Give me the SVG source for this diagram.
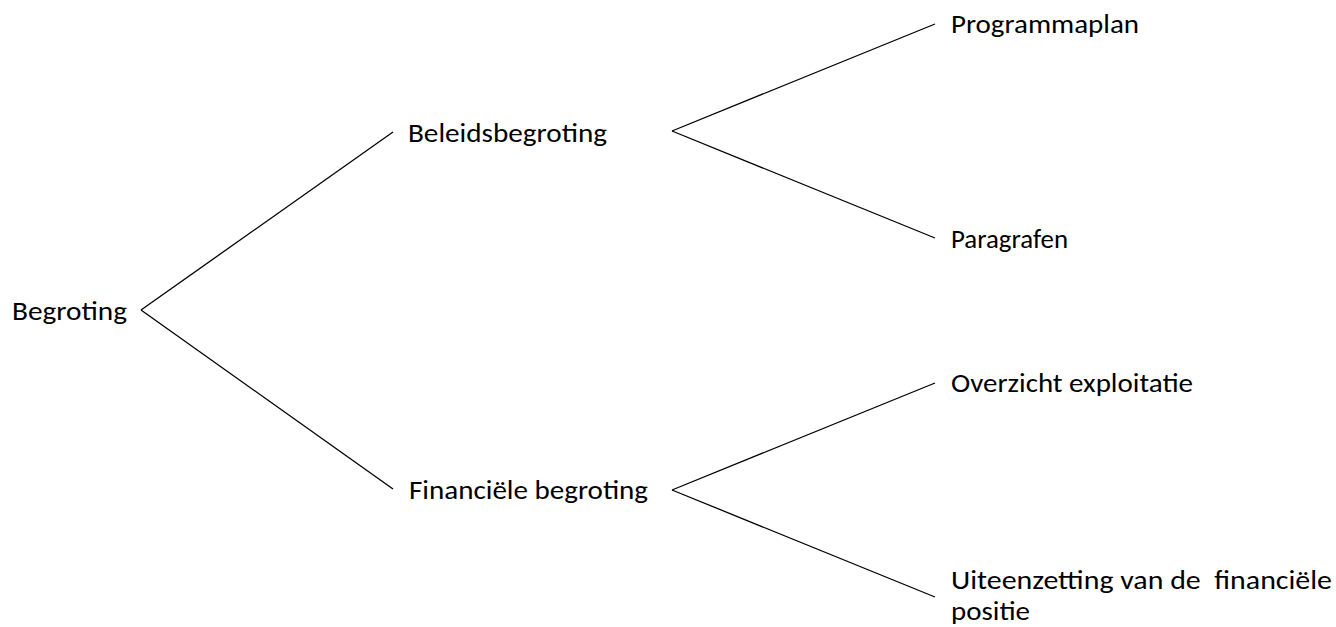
<svg xmlns="http://www.w3.org/2000/svg" width="1336" height="627" viewBox="0 0 1336 627">
<style>
.lbl{font-family:Carlito,Lato,"Open Sans",sans-serif;font-size:26px;fill:#000;white-space:pre}
.con line{stroke:#000;stroke-width:1.3;fill:none}
</style>
<rect width="1336" height="627" fill="#fff"/>
<g id="connectors" class="con">
<line x1="141" y1="310" x2="393" y2="132"/>
<line x1="141" y1="310" x2="393" y2="489"/>
<line x1="672" y1="131" x2="935" y2="24"/>
<line x1="672" y1="131" x2="935" y2="238"/>
<line x1="672" y1="490" x2="935" y2="383"/>
<line x1="672" y1="490" x2="935" y2="597"/>
</g>
<g id="begroting"><text class="lbl" x="12" y="320" textLength="115" lengthAdjust="spacingAndGlyphs">Begroting</text></g>
<g id="beleidsbegroting"><text class="lbl" x="408" y="142" textLength="199" lengthAdjust="spacingAndGlyphs">Beleidsbegroting</text></g>
<g id="financiele-begroting"><text class="lbl" x="409" y="499" textLength="239" lengthAdjust="spacingAndGlyphs">Financiële begroting</text></g>
<g id="programmaplan"><text class="lbl" x="951" y="33" textLength="188" lengthAdjust="spacingAndGlyphs">Programmaplan</text></g>
<g id="paragrafen"><text class="lbl" x="951" y="248" textLength="117" lengthAdjust="spacingAndGlyphs">Paragrafen</text></g>
<g id="overzicht-exploitatie"><text class="lbl" x="951" y="392" textLength="242" lengthAdjust="spacingAndGlyphs">Overzicht exploitatie</text></g>
<g id="uiteenzetting"><text class="lbl" x="951" y="589" textLength="381" lengthAdjust="spacingAndGlyphs" xml:space="preserve">Uiteenzetting van de  financiële</text><text class="lbl" x="951" y="620" textLength="79" lengthAdjust="spacingAndGlyphs">positie</text></g>
</svg>
